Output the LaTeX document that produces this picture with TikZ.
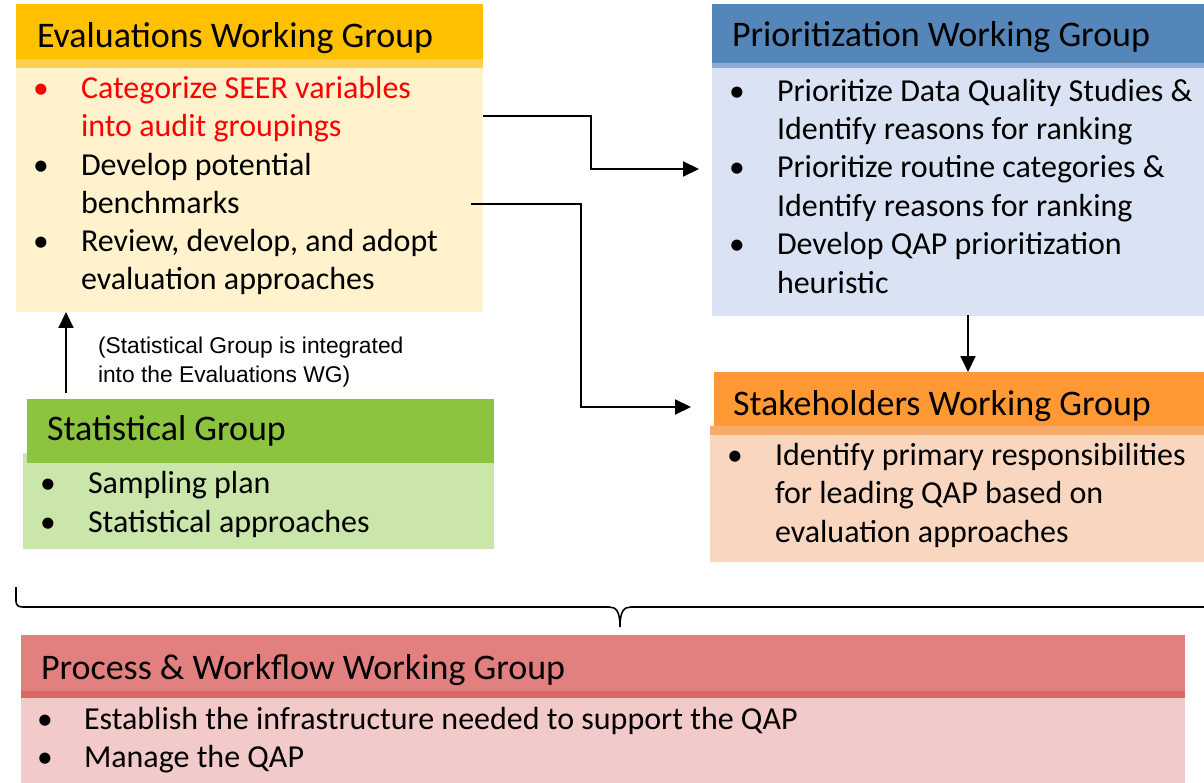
\documentclass[tikz,border=0pt]{standalone}
\usepackage{fontspec}
\setmainfont{Carlito}
\newfontfamily\annotfont{Liberation Sans}
\usetikzlibrary{arrows.meta}
\definecolor{evalH}{HTML}{FFC000}
\definecolor{evalS}{HTML}{FFD04F}
\definecolor{evalB}{HTML}{FFF2CC}
\definecolor{prioH}{HTML}{5586B9}
\definecolor{prioS}{HTML}{8EAAD5}
\definecolor{prioB}{HTML}{DAE3F3}
\definecolor{statH}{HTML}{8CC43F}
\definecolor{statB}{HTML}{CAE6AA}
\definecolor{stakeH}{HTML}{FF9933}
\definecolor{stakeS}{HTML}{F8A96E}
\definecolor{stakeB}{HTML}{F9D6BF}
\definecolor{procH}{HTML}{E28080}
\definecolor{procS}{HTML}{DC6767}
\definecolor{procB}{HTML}{F2CACA}
\tikzset{
  box/.style={inner sep=0pt, outer sep=0pt, anchor=north west, draw=none},
  ttl/.style={anchor=base west, inner sep=0pt, outer sep=0pt, font=\fontsize{36}{42}\selectfont},
  txt/.style={anchor=base west, inner sep=0pt, outer sep=0pt, font=\fontsize{32}{38}\selectfont},
  bul/.style={anchor=base, inner sep=0pt, outer sep=0pt, font=\fontsize{31.5}{38}\selectfont},
  note/.style={anchor=base west, inner sep=0pt, outer sep=0pt, font=\annotfont\fontsize{22.8}{26}\selectfont},
  conn/.style={line width=2pt, -{Triangle[length=16pt,width=15pt]}},
}
\begin{document}
\begin{tikzpicture}[x=1pt,y=-1pt]
\useasboundingbox (0,0) rectangle (1204,783);
% Evaluations
\node[box, fill=evalH, minimum width=467pt, minimum height=55pt] (evalhead) at (16,4) {};
\node[box, fill=evalS, minimum width=467pt, minimum height=9pt] (evalstrip) at (16,59) {};
\node[box, fill=evalB, minimum width=467pt, minimum height=244pt] (evalbody) at (16,68) {};
% Prioritization
\node[box, fill=prioH, minimum width=492pt, minimum height=59pt] (priohead) at (712,4) {};
\node[box, fill=prioS, minimum width=492pt, minimum height=5pt] (priostrip) at (712,63) {};
\node[box, fill=prioB, minimum width=492pt, minimum height=248pt] (priobody) at (712,68) {};
% Statistical
\node[box, fill=statB, minimum width=471pt, minimum height=96pt] (statbody) at (23,453) {};
\node[box, fill=statH, minimum width=467pt, minimum height=64pt] (stathead) at (27,399) {};
% Stakeholders
\node[box, fill=stakeH, minimum width=490pt, minimum height=54pt] (stakehead) at (714,372) {};
\node[box, fill=stakeS, minimum width=494pt, minimum height=9pt] (stakestrip) at (710,426) {};
\node[box, fill=stakeB, minimum width=494pt, minimum height=127pt] (stakebody) at (710,435) {};
% Process
\node[box, fill=procH, minimum width=1164pt, minimum height=56pt] (prochead) at (21,635) {};
\node[box, fill=procS, minimum width=1164pt, minimum height=7pt] (procstrip) at (21,691) {};
\node[box, fill=procB, minimum width=1164pt, minimum height=85pt] (procbody) at (21,698) {};

% Evaluations text
\node[ttl] (evalttl) at (37,48) {Evaluations Working Group};
\node[bul, text=red] (evb1) at (41,99) {•};
\node[txt, text=red] (evt1a) at (81,99) {Categorize SEER variables};
\node[txt, text=red] (evt1b) at (81,137) {into audit groupings};
\node[bul] (evb2) at (41,176) {•};
\node[txt] (evt2a) at (81,176) {Develop potential};
\node[txt] (evt2b) at (81,214) {benchmarks};
\node[bul] (evb3) at (41,252) {•};
\node[txt] (evt3a) at (81,252) {Review, develop, and adopt};
\node[txt] (evt3b) at (81,290) {evaluation approaches};

% Prioritization text
\node[ttl] (prttl) at (732,47) {Prioritization Working Group};
\node[bul] (prb1) at (737,102) {•};
\node[txt] (prt1a) at (777,102) {Prioritize Data Quality Studies \&};
\node[txt] (prt1b) at (777,140) {Identify reasons for ranking};
\node[bul] (prb2) at (737,178) {•};
\node[txt] (prt2a) at (777,178) {Prioritize routine categories \&};
\node[txt] (prt2b) at (777,217) {Identify reasons for ranking};
\node[bul] (prb3) at (737,255) {•};
\node[txt] (prt3a) at (777,255) {Develop QAP prioritization};
\node[txt] (prt3b) at (777,294) {heuristic};

% Statistical text
\node[ttl] (stttl) at (47,440) {Statistical Group};
\node[bul] (stb1) at (48,493) {•};
\node[txt] (stt1) at (88,493) {Sampling plan};
\node[bul] (stb2) at (48,532) {•};
\node[txt] (stt2) at (88,532) {Statistical approaches};

% note
\node[note] (note1) at (98,353) {(Statistical Group is integrated};
\node[note] (note2) at (98,382) {into the Evaluations WG)};

% Stakeholders text
\node[ttl] (skttl) at (733,415) {Stakeholders Working Group};
\node[bul] (skb1) at (735,465) {•};
\node[txt] (skt1a) at (775,465) {Identify primary responsibilities};
\node[txt] (skt1b) at (775,503) {for leading QAP based on};
\node[txt] (skt1c) at (775,542) {evaluation approaches};

% Process text
\node[ttl] (pcttl) at (41,679) {Process \& Workflow Working Group};
\node[bul] (pcb1) at (45,729) {•};
\node[txt] (pct1) at (84,729) {Establish the infrastructure needed to support the QAP};
\node[bul] (pcb2) at (45,767) {•};
\node[txt] (pct2) at (84,767) {Manage the QAP};

% connectors
\coordinate (c2start) at (471,204);
\draw[conn, shorten >=13pt] (evalbody.east |- 0,116) -- (591,116) -- (591,169) -- (priobody.west |- 0,169);
\draw[conn, shorten >=23pt] (c2start) -- (581,204) -- (581,407) -- (stakehead.west |- 0,407);
\draw[conn, shorten <=6pt] (stathead.north -| 66,0) -- (evalbody.south -| 66,0);
\draw[conn, shorten <=-1pt] (priobody.south -| 968,0) -- (stakehead.north -| 968,0);

% brace
\draw[line width=1.6pt] (16,587) -- (16,601) .. controls (16,605) and (18,607) .. (23,607) -- (609,607) .. controls (616,607) and (620,611) .. (620,627) .. controls (620,611) and (624,607) .. (631,607) -- (1204,607);
\end{tikzpicture}
\end{document}
